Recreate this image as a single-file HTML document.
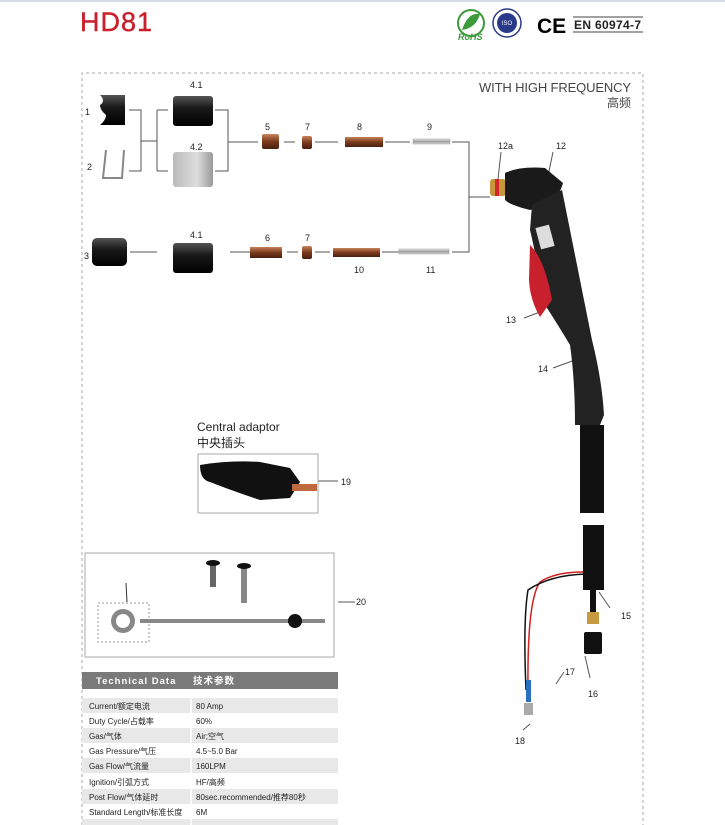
<!DOCTYPE html>
<html><head><meta charset="utf-8"><style>
html,body{margin:0;padding:0;background:#fff}
body{width:725px;height:825px;overflow:hidden;position:relative;font-family:"Liberation Sans","Noto Sans CJK SC",sans-serif}
svg{position:absolute;left:0;top:0}
text{font-family:"Liberation Sans","Noto Sans CJK SC",sans-serif}
</style></head><body>
<svg width="725" height="825" viewBox="0 0 725 825">
<defs>
<linearGradient id="blk" x1="0" y1="0" x2="0" y2="1"><stop offset="0" stop-color="#555"/><stop offset=".4" stop-color="#1a1a1a"/><stop offset="1" stop-color="#000"/></linearGradient>
<linearGradient id="cu" x1="0" y1="0" x2="0" y2="1"><stop offset="0" stop-color="#c9825a"/><stop offset=".5" stop-color="#7a3a1c"/><stop offset="1" stop-color="#4a2010"/></linearGradient>
<linearGradient id="gr" x1="0" y1="0" x2="1" y2="0"><stop offset="0" stop-color="#bbb"/><stop offset=".6" stop-color="#ddd"/><stop offset="1" stop-color="#999"/></linearGradient>
<linearGradient id="sil" x1="0" y1="0" x2="0" y2="1"><stop offset="0" stop-color="#eee"/><stop offset=".5" stop-color="#999"/><stop offset="1" stop-color="#ddd"/></linearGradient>
</defs>
<line x1="0" y1="1" x2="725" y2="1" stroke="#d8dce0" stroke-width="2"/>
<text x="80" y="31" font-size="27" fill="#c8202c" stroke="#c8202c" stroke-width=".4" textLength="72">HD81</text>
<!-- logos -->
<circle cx="471" cy="23" r="13" fill="#fff" stroke="#3c9a3c" stroke-width="2"/>
<path d="M462 30 Q468 12 480 14 Q476 28 462 30Z" fill="#3c9a3c"/>
<text x="458" y="40" font-size="9" font-style="italic" font-weight="bold" fill="#3c9a3c">RoHS</text>
<circle cx="507" cy="23" r="14" fill="#fff" stroke="#2a3a8a" stroke-width="1.5"/>
<circle cx="507" cy="23" r="10" fill="#2a3a8a"/>
<text x="507" y="25" font-size="6" fill="#fff" text-anchor="middle">ISO</text>
<text x="537" y="33" font-size="21" font-weight="bold" fill="#000">CE</text>
<line x1="573" y1="17" x2="643" y2="17" stroke="#444"/>
<text x="574" y="29" font-size="12" font-weight="bold" fill="#222" textLength="67">EN 60974-7</text>
<line x1="573" y1="32" x2="643" y2="32" stroke="#444"/>
<!-- dashed frame -->
<path d="M82 825 V73 H643 V825" fill="none" stroke="#aaa" stroke-dasharray="3,3"/>
<text x="631" y="92" font-size="13" fill="#444" text-anchor="end" textLength="152">WITH HIGH FREQUENCY</text>
<text x="631" y="107" font-size="12" fill="#444" text-anchor="end">高频</text>
<!-- connectors -->
<g stroke="#555" stroke-width="1" fill="none">
<path d="M129 110 H141 V171 H129 M141 141 H157 M157 110 V171 M157 110 H168 M157 171 H168"/>
<path d="M215 110 H228 V171 H215 M228 142 H258"/>
<path d="M284 142 H295 M315 142 H338 M385 142 H410 M452 142 H469 V252 H452 M469 197 H490"/>
<path d="M130 252 H157 M230 252 H252 M287 252 H298 M315 252 H330 M382 252 H400"/>
<path d="M318 481 H338 M338 602 H355"/>
<path d="M548 176 L553 152 M497 188 L501 152 M524 318 L540 312 M553 368 L575 360 M610 608 L599 592 M590 678 L585 656 M564 672 L556 684 M523 730 L530 724"/>
</g>
<!-- labels -->
<g font-size="9" fill="#222">
<text x="85" y="115">1</text><text x="87" y="170">2</text><text x="84" y="259">3</text>
<text x="190" y="88">4.1</text><text x="190" y="150">4.2</text><text x="190" y="238">4.1</text>
<text x="265" y="130">5</text><text x="305" y="130">7</text><text x="357" y="130">8</text><text x="427" y="130">9</text>
<text x="265" y="241">6</text><text x="305" y="241">7</text><text x="354" y="273">10</text><text x="426" y="273">11</text>
<text x="498" y="149">12a</text><text x="556" y="149">12</text><text x="506" y="323">13</text><text x="538" y="372">14</text>
<text x="621" y="619">15</text><text x="588" y="697">16</text><text x="565" y="675">17</text><text x="515" y="744">18</text>
<text x="341" y="485">19</text><text x="356" y="605">20</text><text x="112" y="578">20.1</text>
</g>
<!-- parts row 1 -->
<path d="M100 95 H125 V125 H100 Q106 120 106 115 Q100 110 100 105 Q106 101 100 95Z" fill="url(#blk)"/>
<path d="M106 150 L103 178 H122 L124 150" fill="none" stroke="#888" stroke-width="2"/>
<rect x="173" y="96" width="40" height="30" rx="3" fill="url(#blk)"/>
<rect x="173" y="152" width="40" height="35" rx="3" fill="url(#gr)"/>
<rect x="262" y="134" width="17" height="15" rx="2" fill="url(#cu)"/>
<rect x="302" y="136" width="10" height="13" rx="2" fill="url(#cu)"/>
<rect x="345" y="137" width="38" height="10" fill="url(#cu)"/>
<rect x="413" y="139" width="37" height="5" fill="url(#sil)" stroke="#999" stroke-width=".5"/>
<!-- row 2 -->
<rect x="92" y="238" width="35" height="28" rx="5" fill="url(#blk)"/>
<rect x="173" y="243" width="40" height="30" rx="3" fill="url(#blk)"/>
<rect x="250" y="247" width="32" height="11" fill="url(#cu)"/>
<rect x="302" y="246" width="10" height="13" rx="2" fill="url(#cu)"/>
<rect x="333" y="248" width="47" height="9" fill="url(#cu)"/>
<rect x="399" y="249" width="50" height="5" fill="url(#sil)" stroke="#999" stroke-width=".5"/>
<!-- torch -->
<rect x="490" y="179" width="16" height="17" rx="3" fill="#c8963c"/>
<rect x="495" y="179" width="4" height="17" fill="#d02828"/>
<path d="M505 173 Q520 166 545 168 L563 183 Q560 195 548 205 L530 210 Q510 205 505 200Z" fill="#1a1a1a"/>
<path d="M532 205 Q548 196 562 190 Q576 260 592 340 Q602 380 604 415 L600 425 L575 425 Q575 380 570 345 Q555 320 545 305 Q535 250 530 230Z" fill="#222"/>
<path d="M530 245 Q545 260 552 300 L540 317 Q530 300 529 280Z" fill="#c8202c"/>
<rect x="538" y="226" width="14" height="22" fill="#ddd" transform="rotate(-15 545 237)"/>
<rect x="580" y="425" width="24" height="88" fill="#111"/>
<rect x="583" y="525" width="21" height="65" fill="#111"/>
<path d="M583 572 Q555 572 540 582 Q527 600 528 690" fill="none" stroke="#d02020" stroke-width="1.5"/>
<path d="M586 574 Q550 575 528 590 Q523 620 526 690" fill="none" stroke="#111" stroke-width="1.5"/>
<rect x="526" y="680" width="5" height="22" fill="#2a70c0"/>
<rect x="524" y="703" width="9" height="12" fill="#aaa"/>
<rect x="590" y="590" width="6" height="22" fill="#111"/>
<rect x="587" y="612" width="12" height="12" fill="#c89a40"/>
<rect x="584" y="632" width="18" height="22" rx="2" fill="#111"/>
<!-- central adaptor -->
<text x="197" y="431" font-size="12" fill="#222">Central adaptor</text>
<text x="197" y="447" font-size="12" fill="#222">中央插头</text>
<rect x="198" y="454" width="120" height="59" fill="#fff" stroke="#aaa"/>
<path d="M200 465 Q230 460 260 462 L290 468 L300 482 L290 498 L260 500 Q230 490 210 482 Q200 480 200 465Z" fill="#111"/>
<rect x="292" y="484" width="25" height="7" fill="#c06a40"/>
<!-- torch kit box -->
<rect x="85" y="553" width="249" height="104" fill="#fff" stroke="#aaa"/>
<rect x="98" y="603" width="51" height="39" fill="none" stroke="#999" stroke-dasharray="2,2"/>
<path d="M126 583 L127 602" stroke="#333"/>
<rect x="140" y="619" width="185" height="4" fill="#888"/>
<circle cx="123" cy="621" r="12" fill="#888"/><circle cx="123" cy="621" r="7" fill="#fff"/>
<circle cx="295" cy="621" r="7" fill="#111"/>
<rect x="210" y="562" width="6" height="25" fill="#666"/><ellipse cx="213" cy="563" rx="7" ry="3" fill="#111"/>
<rect x="241" y="568" width="6" height="35" fill="#888"/><ellipse cx="244" cy="566" rx="7" ry="3" fill="#111"/>
<!-- table -->
<rect x="82" y="672" width="256" height="17" fill="#7a7a7a"/>
<text x="96" y="684" font-size="9.5" font-weight="bold" fill="#fff" letter-spacing="1">Technical Data</text>
<text x="193" y="684" font-size="9.5" font-weight="bold" fill="#fff" letter-spacing="1">技术参数</text>
<g fill="#e8e8e8">
<rect x="82" y="698" width="256" height="15"/><rect x="82" y="728" width="256" height="15"/><rect x="82" y="758" width="256" height="15"/><rect x="82" y="789" width="256" height="15"/><rect x="82" y="819" width="256" height="6"/>
</g>
<line x1="191" y1="698" x2="191" y2="825" stroke="#fff" stroke-width="1.5"/>
<g font-size="8" fill="#222">
<text x="89" y="709">Current/额定电流</text><text x="196" y="709">80 Amp</text>
<text x="89" y="724">Duty Cycle/占载率</text><text x="196" y="724">60%</text>
<text x="89" y="739">Gas/气体</text><text x="196" y="739">Air;空气</text>
<text x="89" y="754">Gas Pressure/气压</text><text x="196" y="754">4.5~5.0 Bar</text>
<text x="89" y="769">Gas Flow/气流量</text><text x="196" y="769">160LPM</text>
<text x="89" y="785">Ignition/引弧方式</text><text x="196" y="785">HF/高频</text>
<text x="89" y="800">Post Flow/气体延时</text><text x="196" y="800">80sec.recommended/推荐80秒</text>
<text x="89" y="815">Standard Length/标准长度</text><text x="196" y="815">6M</text>
</g>
</svg>
</body></html>
